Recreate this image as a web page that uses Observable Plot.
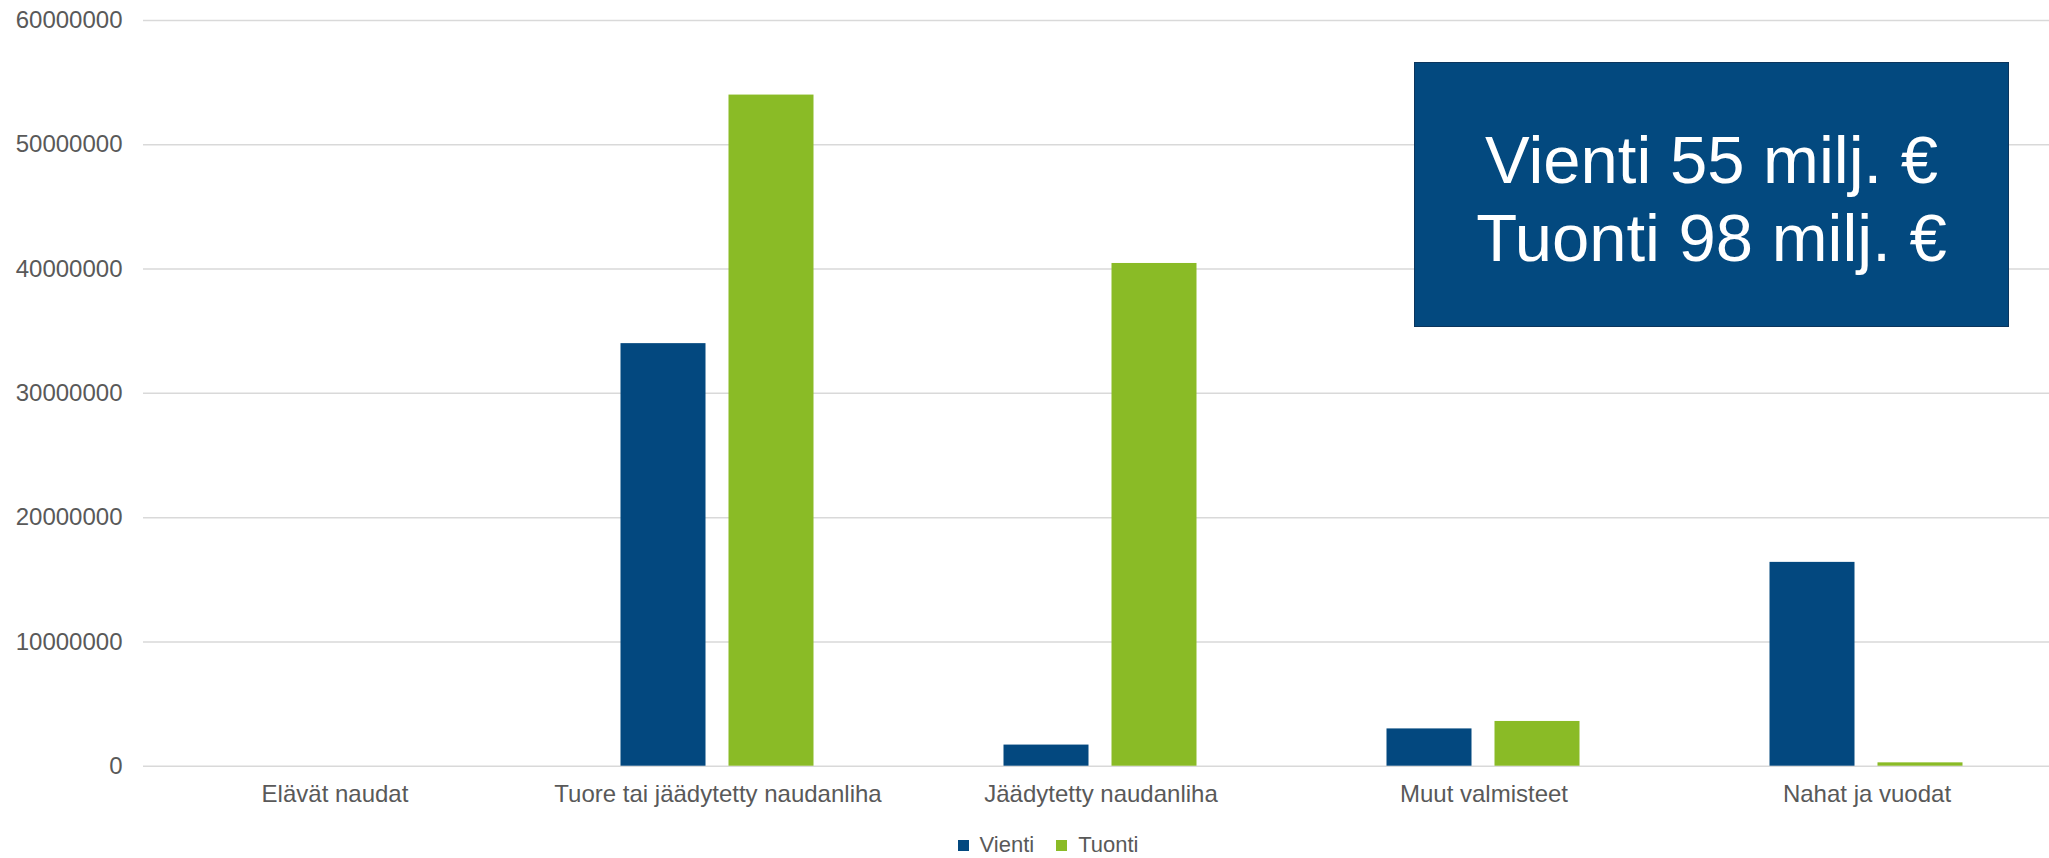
<!DOCTYPE html>
<html><head><meta charset="utf-8">
<script src="https://cdn.jsdelivr.net/npm/d3@7"></script>
<script src="https://cdn.jsdelivr.net/npm/@observablehq/plot@0.6"></script>
<style>
body{margin:0;overflow:hidden;background:#fff;font-family:"Liberation Sans",Arial,sans-serif;}
#wrap{position:relative;width:2049px;height:858px;overflow:hidden;}
#chart{position:absolute;left:0;top:0;}
#box{position:absolute;left:1414px;top:61.5px;width:595px;height:265.5px;box-sizing:border-box;background:#03497F;border:1.5px solid #0b355d;color:#fff;font-size:67px;line-height:78px;text-align:center;padding-top:58px;font-family:"Liberation Sans",Arial,sans-serif;white-space:nowrap;}
#legend{position:absolute;left:0;top:835px;width:2118px;height:20px;display:flex;justify-content:center;align-items:center;}
#legend > div{min-height:0 !important;margin:0 !important;line-height:20px;}
</style></head><body>
<div id="wrap"><div id="chart"></div><div id="legend"></div><div id="box">Vienti 55 milj. €<br>Tuonti 98 milj. €</div></div>
<script>
const categories = ["Elävät naudat", "Tuore tai jäädytetty naudanliha", "Jäädytetty naudanliha", "Muut valmisteet", "Nahat ja vuodat"];
const series = ["Vienti", "Tuonti"];
const vienti = [0, 34.0e6, 1.7e6, 3.0e6, 16.4e6];
const tuonti = [0, 54.0e6, 40.45e6, 3.6e6, 0.27e6];
const yTicks = [0, 10000000, 20000000, 30000000, 40000000, 50000000, 60000000];
const colors = ["#03487F", "#8ABB26"];

const data = categories.flatMap((c, i) => [
  {category: c, series: series[0], value: vienti[i]},
  {category: c, series: series[1], value: tuonti[i]}
]);

const font = '"Liberation Sans", Arial, sans-serif';
const plot = Plot.plot({
  width: 2059, height: 830,
  marginLeft: 142.5, marginRight: 0, marginTop: 20, marginBottom: 64.3,
  style: {fontFamily: font, fontSize: "24px", color: "#595959", maxWidth: "none", background: "transparent"},
  fx: {domain: categories, padding: 0, label: null, axis: "bottom", tickSize: 0, tickPadding: 19},
  x: {domain: series, paddingInner: 0.211, paddingOuter: 0.864, axis: null},
  y: {domain: [0, 60000000], ticks: yTicks, tickFormat: "d", label: null, tickSize: 0, tickPadding: 21},
  color: {domain: series, range: colors},
  marks: [
    Plot.gridY(yTicks, {stroke: "#d9d9d9", strokeOpacity: 1, strokeWidth: 1.5}),
    Plot.barY(data, {fx: "category", x: "series", y: "value", fill: "series"})
  ]
});
document.getElementById("chart").appendChild(plot);

const leg = Plot.legend({
  color: {domain: series, range: colors},
  legend: "swatches",
  swatchSize: 11,
  style: {fontFamily: font, fontSize: "22px", color: "#595959", marginBottom: "0", minHeight: "0", lineHeight: "20px"}
});
document.getElementById("legend").appendChild(leg);
</script>
</body></html>
